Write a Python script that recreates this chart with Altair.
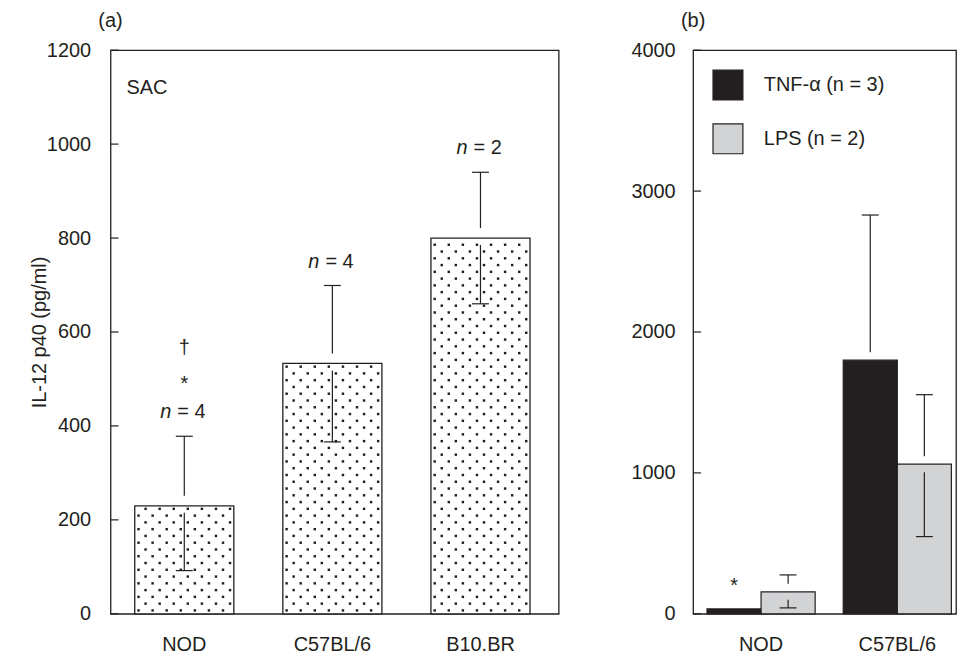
import altair as alt
import pandas as pd

# ---------------- data ----------------
strains_a = ["NOD", "C57BL/6", "B10.BR"]
il12_mean = [230, 533, 800]
il12_upper = [378, 699, 940]
il12_lower = [92, 366, 660]
n_a = [4, 4, 2]
star_a = ["*", "", ""]
dagger_a = ["\u2020", "", ""]
y_ticks_a = [0, 200, 400, 600, 800, 1000, 1200]
panel_a_label = ["SAC"]

strains_b = ["NOD", "C57BL/6"]
stimuli = ["TNF-\u03b1 (n = 3)", "LPS (n = 2)"]
tnf_mean = [35, 1800]
tnf_upper = [None, 2830]
tnf_lower = [None, 770]
tnf_star = ["*", ""]
lps_mean = [156, 1062]
lps_upper = [276, 1555]
lps_lower = [42, 548]
lps_star = ["", ""]
y_ticks_b = [0, 1000, 2000, 3000, 4000]

# ---------------- style ----------------
FONT = "Liberation Sans"
INK = "#231f20"
GREY = "#d1d3d4"
FS = 20
WA, WB, H = 450, 264, 566
YMAX_A, YMAX_B = 1200, 4000
NCOL = 14          # dot columns of the stipple texture
DOT_DX = 7.07      # px between texture columns
DOT_DY = 6.8       # px between texture rows
TICK_LEN = 8       # inward tick length, px

df_a = pd.DataFrame({
    "strain": strains_a, "mean": il12_mean, "upper": il12_upper, "lower": il12_lower,
    "nlab": ["= %d" % n for n in n_a], "star": star_a, "dagger": dagger_a,
})

# stipple texture inside the panel (a) bars, derived from the bar values
PX_A = H / YMAX_A
dots = []
for s, m in zip(strains_a, il12_mean):
    top_px = m * PX_A
    k = 0
    while k * DOT_DY + 3.4 < top_px - 2:
        yv = (k * DOT_DY + 3.4) / PX_A
        for c in range(NCOL):
            if (c + k) % 2 == 0:
                dots.append({"strain": s, "col": c, "yd": yv})
        k += 1
df_dots = pd.DataFrame(dots)

rows_b = []
for i, s in enumerate(strains_b):
    rows_b.append({"strain": s, "stim": stimuli[0], "mean": tnf_mean[i],
                   "upper": tnf_upper[i], "lower": tnf_lower[i], "star": tnf_star[i]})
    rows_b.append({"strain": s, "stim": stimuli[1], "mean": lps_mean[i],
                   "upper": lps_upper[i], "lower": lps_lower[i], "star": lps_star[i]})
df_b = pd.DataFrame(rows_b)

NOAX = None


def ptitle(t):
    return alt.TitleParams(t, anchor="start", align="center", frame="group", fontSize=FS,
                           fontWeight="normal", font=FONT, color=INK, offset=9)


def inward_ticks(values):
    return alt.Chart(pd.DataFrame({"v": values})).mark_rule(color=INK, strokeWidth=1.2).encode(
        x=alt.value(0), x2=alt.value(TICK_LEN), y=alt.Y("v:Q", axis=NOAX))


# ---------------- panel (a) ----------------
xa = alt.X("strain:N", sort=strains_a,
           scale=alt.Scale(domain=strains_a, paddingInner=0.331, paddingOuter=0.1785, align=0.458),
           axis=alt.Axis(title=None, labelAngle=0, ticks=False, tickSize=0, domain=False,
                         labelPadding=21, labelFontSize=FS))
ya = alt.Y("mean:Q", scale=alt.Scale(domain=[0, YMAX_A], nice=False),
           axis=alt.Axis(values=y_ticks_a, format="d", title="IL-12 p40 (pg/ml)", ticks=False,
                         tickSize=0, domain=False, grid=False, labelPadding=20, labelFontSize=FS,
                         titleFontSize=FS, titleFontWeight="normal", titlePadding=-3))

base_a = alt.Chart(df_a)
bars_a = base_a.mark_bar(fill="white", stroke=INK, strokeWidth=1.3).encode(x=xa, y=ya)

dot_layers = []
for c in range(NCOL):
    dot_layers.append(
        alt.Chart(df_dots).transform_filter(alt.datum.col == c).mark_square(
            size=6, color=INK, opacity=1, xOffset=(c - (NCOL - 1) / 2) * DOT_DX
        ).encode(x=xa, y=alt.Y("yd:Q", axis=NOAX))
    )

up_a = base_a.mark_rule(color=INK, strokeWidth=1.2, y2Offset=-10).encode(
    x=xa, y=alt.Y("upper:Q", axis=NOAX), y2="mean:Q")
lo_a = base_a.mark_rule(color=INK, strokeWidth=1.2, yOffset=7).encode(
    x=xa, y=alt.Y("mean:Q", axis=NOAX), y2="lower:Q")
capu_a = base_a.mark_tick(size=17, thickness=1.2, color=INK, opacity=1).encode(
    x=xa, y=alt.Y("upper:Q", axis=NOAX))
capl_a = base_a.mark_tick(size=17, thickness=1.2, color=INK, opacity=1).encode(
    x=xa, y=alt.Y("lower:Q", axis=NOAX))
n_it = base_a.mark_text(font=FONT, fontSize=FS, fontStyle="italic", color=INK, align="right",
                        baseline="alphabetic", dx=-13, dy=-18).encode(
    x=xa, y=alt.Y("upper:Q", axis=NOAX), text=alt.value("n"))
n_rest = base_a.mark_text(font=FONT, fontSize=FS, color=INK, align="left",
                          baseline="alphabetic", dx=-7, dy=-18).encode(
    x=xa, y=alt.Y("upper:Q", axis=NOAX), text="nlab:N")
star_t = base_a.mark_text(font=FONT, fontSize=FS, color=INK, align="center",
                          baseline="alphabetic", dy=-46).encode(
    x=xa, y=alt.Y("upper:Q", axis=NOAX), text="star:N")
dag_t = base_a.mark_text(font=FONT, fontSize=FS, color=INK, align="center",
                         baseline="alphabetic", dy=-83).encode(
    x=xa, y=alt.Y("upper:Q", axis=NOAX), text="dagger:N")
sac = alt.Chart(pd.DataFrame({"t": panel_a_label})).mark_text(
    font=FONT, fontSize=FS, color=INK, align="left", baseline="alphabetic").encode(
    x=alt.value(16), y=alt.value(44), text="t:N")

panel_a = alt.layer(bars_a, *dot_layers, up_a, lo_a, capu_a, capl_a, n_it, n_rest, star_t, dag_t,
                    sac, inward_ticks(y_ticks_a)
                    ).resolve_axis(y="independent").properties(width=WA, height=H, title=ptitle("(a)"))

# ---------------- panel (b) ----------------
xb = alt.X("strain:N", sort=strains_b,
           scale=alt.Scale(domain=strains_b, paddingInner=0.206, paddingOuter=0.068, align=0.75),
           axis=alt.Axis(title=None, labelAngle=0, ticks=False, tickSize=0, domain=False,
                         labelPadding=21, labelFontSize=FS))
xob = alt.XOffset("stim:N", sort=stimuli, scale=alt.Scale(domain=stimuli, paddingInner=0, paddingOuter=0))
yb = alt.Y("mean:Q", scale=alt.Scale(domain=[0, YMAX_B], nice=False),
           axis=alt.Axis(values=y_ticks_b, format="d", title=None, ticks=False, tickSize=0,
                         domain=False, grid=False, labelPadding=18, labelFontSize=FS))

base_b = alt.Chart(df_b)
bars_b = base_b.mark_bar(stroke=INK, strokeWidth=1.2, opacity=1).encode(
    x=xb, xOffset=xob, y=yb,
    color=alt.Color("stim:N", sort=stimuli, scale=alt.Scale(domain=stimuli, range=[INK, GREY]),
                    legend=alt.Legend(title=None, orient="top-left", offset=19, padding=0,
                                      symbolType="square", symbolSize=900, symbolStrokeColor=INK,
                                      symbolStrokeWidth=1.2, symbolOpacity=1, labelFontSize=FS,
                                      labelFont=FONT, labelColor=INK, labelOffset=20,
                                      rowPadding=18)))
valid = "isValid(datum.upper) && datum.upper !== null"
up_b = base_b.transform_filter(valid).mark_rule(color=INK, strokeWidth=1.2, y2Offset=-8).encode(
    x=xb, xOffset=xob, y=alt.Y("upper:Q", axis=NOAX), y2="mean:Q")
lo_b = base_b.transform_filter(valid).mark_rule(color=INK, strokeWidth=1.2, yOffset=8).encode(
    x=xb, xOffset=xob, y=alt.Y("mean:Q", axis=NOAX), y2="lower:Q")
capu_b = base_b.transform_filter(valid).mark_tick(size=17, thickness=1.2, color=INK, opacity=1).encode(
    x=xb, xOffset=xob, y=alt.Y("upper:Q", axis=NOAX))
capl_b = base_b.transform_filter(valid).mark_tick(size=17, thickness=1.2, color=INK, opacity=1).encode(
    x=xb, xOffset=xob, y=alt.Y("lower:Q", axis=NOAX))
star_b = base_b.mark_text(font=FONT, fontSize=FS, color=INK, align="center",
                          baseline="alphabetic", dy=-17).encode(
    x=xb, xOffset=xob, y=alt.Y("mean:Q", axis=NOAX), text="star:N")

panel_b = alt.layer(bars_b, up_b, lo_b, capu_b, capl_b, star_b, inward_ticks(y_ticks_b)
                    ).resolve_axis(y="independent").properties(width=WB, height=H, title=ptitle("(b)"))

chart = alt.hconcat(panel_a, panel_b, spacing=70).resolve_scale(
    color="independent").resolve_legend(color="independent").properties(
    padding={"left": 28, "top": 9, "right": 0, "bottom": 0}
).configure_view(stroke=INK, strokeWidth=1.3).configure_axis(
    labelFont=FONT, titleFont=FONT, labelColor=INK, titleColor=INK
).configure_text(font=FONT)

chart.save("out.html", embed_options={"renderer": "svg", "actions": False})
